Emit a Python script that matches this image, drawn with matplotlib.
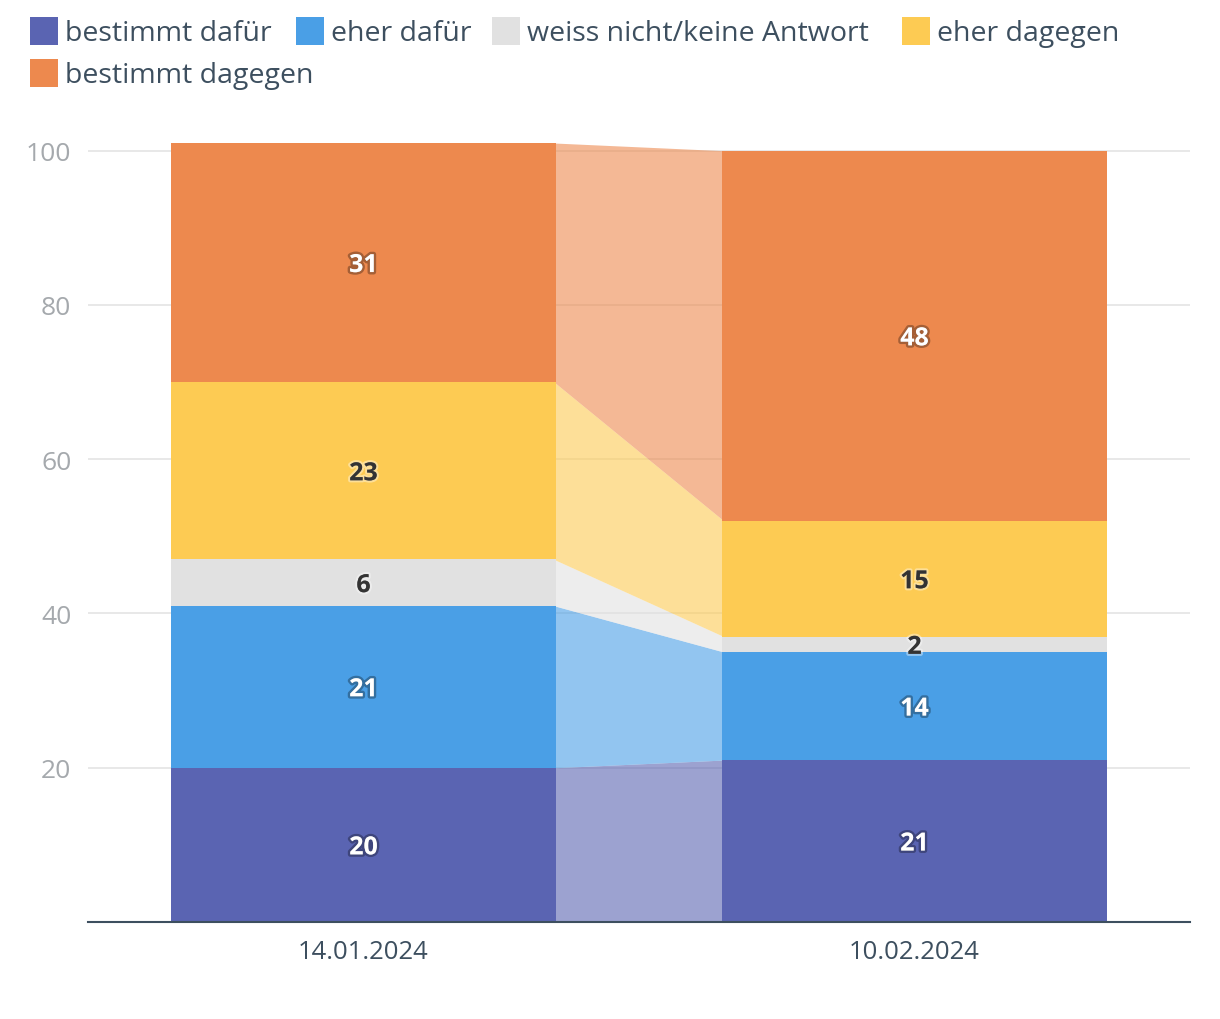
"""Stacked bars with connecting bands: bestimmt dafür ... bestimmt dagegen."""

import matplotlib
matplotlib.use("Agg")
import matplotlib.pyplot as plt
import matplotlib.patheffects as pe
from matplotlib.patches import Rectangle

dates = ["14.01.2024", "10.02.2024"]
categories = ["bestimmt dafür", "eher dafür", "weiss nicht/keine Antwort",
              "eher dagegen", "bestimmt dagegen"]
values = {
    "bestimmt dafür": [20, 21],
    "eher dafür": [21, 14],
    "weiss nicht/keine Antwort": [6, 2],
    "eher dagegen": [23, 15],
    "bestimmt dagegen": [31, 48],
}
colors = ["#5a64b2", "#4a9fe6", "#e1e1e1", "#fdcb53", "#ed894e"]
dark_label = {"weiss nicht/keine Antwort", "eher dagegen"}

plt.rcParams["font.family"] = ["Open Sans", "DejaVu Sans"]

fig = plt.figure(figsize=(12.2, 10.2), dpi=100)
ax = fig.add_axes([88 / 1220, 1 - 923 / 1020, (1190 - 88) / 1220, (923 - 144) / 1020])

x = [0, 1]
width = 0.7
overlap = 0.004  # tuck the bands slightly under the bars so no seam shows
bottoms = [0, 0]
for cat, col in zip(categories, colors):
    vals = values[cat]
    ax.bar(x, vals, width, bottom=bottoms, color=col, linewidth=0, zorder=3)
    tops = [b + v for b, v in zip(bottoms, vals)]
    # connecting band between the two bars
    ax.fill_between([x[0] + width / 2 - overlap, x[1] - width / 2 + overlap],
                    [bottoms[0], bottoms[1]], [tops[0], tops[1]],
                    color=col, alpha=0.6, linewidth=0, zorder=2)
    for xi, b, v in zip(x, bottoms, vals):
        if cat in dark_label:
            tc, fx = "#333333", [pe.withStroke(linewidth=3, foreground=(1, 1, 1, 0.4))]
        else:
            tc, fx = "white", [pe.withStroke(linewidth=3.5, foreground=(0, 0, 0, 0.3))]
        ax.text(xi, b + v / 2, str(v), ha="center", va="center_baseline", fontsize=18,
                fontweight="bold", color=tc, path_effects=fx, zorder=4)
    bottoms = tops

ax.set_xlim(-0.5, 1.5)
ax.set_ylim(0, 101)
ax.set_yticks([20, 40, 60, 80, 100])
ax.set_xticks(x)
ax.set_xticklabels(dates)
ax.grid(axis="y", color="#e6e6e6", linewidth=1.3, zorder=0)
ax.set_axisbelow(True)
for s in ["top", "right", "left"]:
    ax.spines[s].set_visible(False)
ax.spines["bottom"].set_color("#3d4f5f")
ax.spines["bottom"].set_linewidth(1.5)
ax.spines["bottom"].set_zorder(5)
ax.tick_params(axis="y", length=0, pad=12, labelsize=19, labelcolor="#a5a9ad")
ax.tick_params(axis="x", length=0, pad=12, labelsize=18.5, labelcolor="#3d4f5f")

# legend drawn by hand: four items on the first row, one on the second
legend_pos = [(30, 18), (296, 18), (492, 18), (902, 18), (30, 60)]
for cat, col, (lx, ly) in zip(categories, colors, legend_pos):
    fig.patches.append(Rectangle((lx / 1220, 1 - (ly + 28) / 1020), 28 / 1220, 28 / 1020,
                                 transform=fig.transFigure, color=col, linewidth=0))
    fig.text((lx + 35) / 1220, 1 - (ly + 16) / 1020, cat, ha="left", va="center",
             fontsize=20.5, color="#3d4f5f")

fig.savefig("out.png", dpi=100)
